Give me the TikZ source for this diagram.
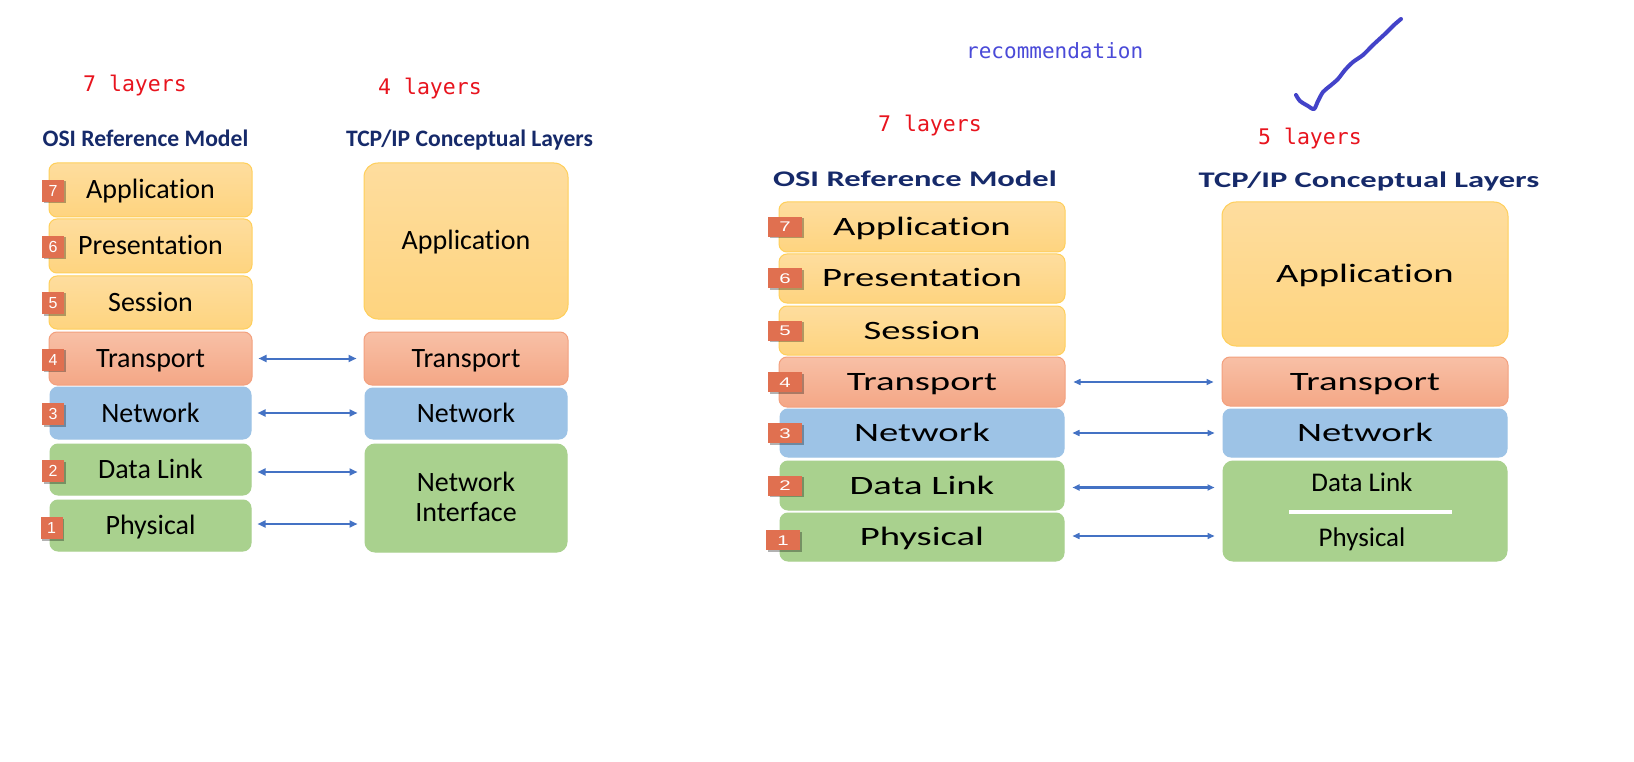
\documentclass[tikz,border=0pt]{standalone}
\usepackage{fontspec}
\usepackage{graphicx}
\setmainfont{Carlito}[Ligatures={NoCommon,NoContextual}]
\newfontfamily\monofont{DejaVu Sans Mono}
\newfontfamily\badgefont{Liberation Sans}
\usetikzlibrary{arrows.meta,shadows}
\definecolor{yelTop}{HTML}{FEDD9E}
\definecolor{yelBot}{HTML}{FED47F}
\definecolor{yelBd}{HTML}{FFCF5A}
\definecolor{orTop}{HTML}{F8C0A6}
\definecolor{orBot}{HTML}{F4A786}
\definecolor{orBd}{HTML}{F3A07E}
\definecolor{bluF}{HTML}{9DC3E6}
\definecolor{grnF}{HTML}{A9D18E}
\definecolor{badgeC}{HTML}{E07050}
\definecolor{navy}{HTML}{162A6A}
\definecolor{redT}{HTML}{E8141E}
\definecolor{recB}{HTML}{4A4AD8}
\definecolor{chkB}{HTML}{4343C9}
\definecolor{arrC}{HTML}{4472C4}
\newcommand{\wide}[1]{\scalebox{1.46}[1]{#1}}
\tikzset{
  box/.style={rounded corners=8pt, inner sep=0pt, line width=1pt},
  yel/.style={box, draw=yelBd, top color=yelTop, bottom color=yelBot},
  orn/.style={box, draw=orBd, top color=orTop, bottom color=orBot},
  blu/.style={box, draw=bluF, fill=bluF},
  grn/.style={box, draw=grnF, fill=grnF},
  ltxt/.style={font=\fontsize{28}{30}\selectfont, text height=18pt, text depth=0pt},
  rtxt/.style={font=\fontsize{26.5}{28}\selectfont, text height=17pt, text depth=0pt},
  lw/.style={minimum width=203pt},
  rw/.style={minimum width=286pt},
  badgeL/.style={fill=badgeC, text=white, inner sep=0pt, minimum width=22pt, minimum height=22pt,
     font=\badgefont\fontsize{16}{16}\selectfont, text height=11.5pt, text depth=0pt,
     drop shadow={shadow xshift=1.5pt, shadow yshift=-1.5pt, opacity=0.3, fill=black}},
  badgeR/.style={fill=badgeC, text=white, inner sep=0pt, minimum width=34pt, minimum height=20pt,
     font=\badgefont\fontsize{14}{14}\selectfont, text height=10pt, text depth=0pt,
     drop shadow={shadow xshift=1.5pt, shadow yshift=-1.5pt, opacity=0.3, fill=black}},
  redlbl/.style={anchor=base west, inner sep=0pt, text=redT, font=\monofont\fontsize{21.5}{21.5}\selectfont},
  hdrL/.style={anchor=base, inner sep=0pt, text=navy, font=\bfseries\fontsize{23.6}{23.6}\selectfont},
  hdrR/.style={anchor=base, inner sep=0pt, text=navy, font=\bfseries\fontsize{22.3}{22.3}\selectfont},
  arrL/.style={{Triangle[length=8pt,width=7pt]}-{Triangle[length=8pt,width=7pt]}, draw=arrC, line width=2pt, shorten <=6pt, shorten >=7pt},
  arrR/.style={{Triangle[length=7pt,width=6pt]}-{Triangle[length=7pt,width=6pt]}, draw=arrC, line width=1.5pt, shorten <=8pt, shorten >=8pt},
}
\begin{document}
\begin{tikzpicture}[x=1pt,y=-1pt]
\useasboundingbox[fill=white] (0,0) rectangle (1634,762);

% ---------- left group ----------
\node[redlbl] (l7lay) at (83,92) {7 layers};
\node[redlbl] (l4lay) at (378,94.5) {4 layers};
\node[hdrL] (losi) at (145.5,147) {OSI Reference Model};
\node[hdrL] (ltcp) at (469.5,147) {TCP/IP Conceptual Layers};

\node[yel,lw,ltxt,minimum height=54pt] (L7) at (150.5,190) {Application};
\node[yel,lw,ltxt,minimum height=54pt] (L6) at (150.5,246) {Presentation};
\node[yel,lw,ltxt,minimum height=53pt] (L5) at (150.5,302.5) {Session};
\node[orn,lw,ltxt,minimum height=53pt] (L4) at (150.5,358.5) {Transport};
\node[blu,lw,ltxt,minimum height=52pt,minimum width=201pt] (L3) at (150.5,413) {Network};
\node[grn,lw,ltxt,minimum height=51pt,minimum width=201pt] (L2) at (150.5,469.5) {Data Link};
\node[grn,lw,ltxt,minimum height=51pt,minimum width=201pt] (L1) at (150.5,525.5) {Physical};

\node[yel,ltxt,minimum width=204pt,minimum height=156pt,rounded corners=14pt] (TA) at (466,241) {Application};
\node[orn,ltxt,minimum width=204pt,minimum height=53pt] (TT) at (466,358.5) {Transport};
\node[blu,ltxt,minimum width=202pt,minimum height=51pt] (TN) at (466,413.5) {Network};
\node[grn,minimum width=202pt,minimum height=108pt,rounded corners=10pt] (TI) at (466,498) {};
\node[inner sep=0pt,font=\fontsize{28}{30}\selectfont,align=center,text height=18pt,text depth=0pt] (TIa) at (466,482) {Network};
\node[inner sep=0pt,font=\fontsize{28}{30}\selectfont,align=center,text height=18pt,text depth=0pt] (TIb) at (466,512) {Interface};

\node[badgeL] (b7) at (53,191) {7};
\node[badgeL] (b6) at (53,247) {6};
\node[badgeL] (b5) at (53,303) {5};
\node[badgeL] (b4) at (53,359.5) {4};
\node[badgeL] (b3) at (53,414) {3};
\node[badgeL] (b2) at (53,471) {2};
\node[badgeL] (b1) at (51.5,528) {1};

\draw[arrL] (L4.east) -- (L4.east -| TT.west);
\draw[arrL] (L3.east) -- (L3.east -| TN.west);
\draw[arrL] ([yshift=-2.5pt]L2.east) -- ([yshift=-2.5pt]L2.east -| TI.west);
\draw[arrL] ([yshift=1.5pt]L1.east) -- ([yshift=1.5pt]L1.east -| TI.west);

% ---------- right group ----------
\node[anchor=base west, inner sep=0pt, text=recB, font=\monofont\fontsize{21}{21}\selectfont] (rec) at (966,59) {recommendation};
\draw[chkB, line width=4pt, line cap=round, line join=round]
  plot[smooth, tension=0.5] coordinates {(1296,95) (1300,101) (1308,106) (1314,109) (1318,101) (1323,92) (1330,86) (1338,79) (1345,70) (1353,62) (1363,55) (1373,45) (1386,33) (1394,25) (1401,19)};
\node[redlbl] (r7lay) at (878,132) {7 layers};
\node[redlbl] (r5lay) at (1258,145) {5 layers};
\node[hdrR] (rosi) at (915,187) {\wide{OSI Reference Model}};
\node[hdrR] (rtcp) at (1369,188) {\wide{TCP/IP Conceptual Layers}};

\node[yel,rw,rtxt,minimum height=50pt] (R7) at (922,227) {\wide{Application}};
\node[yel,rw,rtxt,minimum height=49pt] (R6) at (922,278.5) {\wide{Presentation}};
\node[yel,rw,rtxt,minimum height=49pt] (R5) at (922,330.5) {\wide{Session}};
\node[orn,rw,rtxt,minimum height=50pt] (R4) at (922,382) {\wide{Transport}};
\node[blu,rw,rtxt,minimum height=48pt,minimum width=284pt] (R3) at (922,433) {\wide{Network}};
\node[grn,rw,rtxt,minimum height=49pt,minimum width=284pt] (R2) at (922,485.5) {\wide{Data Link}};
\node[grn,rw,rtxt,minimum height=48pt,minimum width=284pt] (R1) at (922,537) {\wide{Physical}};

\node[yel,rw,rtxt,minimum height=144pt,rounded corners=14pt] (SA) at (1365,274) {\wide{Application}};
\node[orn,rw,rtxt,minimum height=49pt] (ST) at (1365,381.5) {\wide{Transport}};
\node[blu,rw,rtxt,minimum height=48pt,minimum width=284pt] (SN) at (1365,433) {\wide{Network}};
\node[grn,minimum height=100pt,minimum width=284pt,rounded corners=10pt] (SD) at (1365,511) {};
\node[inner sep=0pt,font=\fontsize{27}{28}\selectfont,text height=17pt,text depth=0pt] (SDa) at (1362,482.5) {Data Link};
\node[inner sep=0pt,font=\fontsize{27}{28}\selectfont,text height=17pt,text depth=0pt] (SDb) at (1362,537.5) {Physical};
\coordinate (wl1) at (1289,511.5);
\coordinate (wl2) at (1452,511.5);
\draw[white, line width=4pt] (wl1) -- (wl2);

\node[badgeR] (c7) at (785,227) {\wide{7}};
\node[badgeR] (c6) at (785,278.5) {\wide{6}};
\node[badgeR] (c5) at (785,330.5) {\wide{5}};
\node[badgeR] (c4) at (785,382) {\wide{4}};
\node[badgeR] (c3) at (785,433) {\wide{3}};
\node[badgeR] (c2) at (785,485.5) {\wide{2}};
\node[badgeR] (c1) at (783,540) {\wide{1}};

\draw[arrR] (R4.east) -- (R4.east -| ST.west);
\draw[arrR] (R3.east) -- (R3.east -| SN.west);
\draw[arrR, line width=2.2pt] ([yshift=-2pt]R2.east) -- ([yshift=-2pt]R2.east -| SD.west);
\draw[arrR] ([yshift=1pt]R1.east) -- ([yshift=1pt]R1.east -| SD.west);
\end{tikzpicture}
\end{document}
